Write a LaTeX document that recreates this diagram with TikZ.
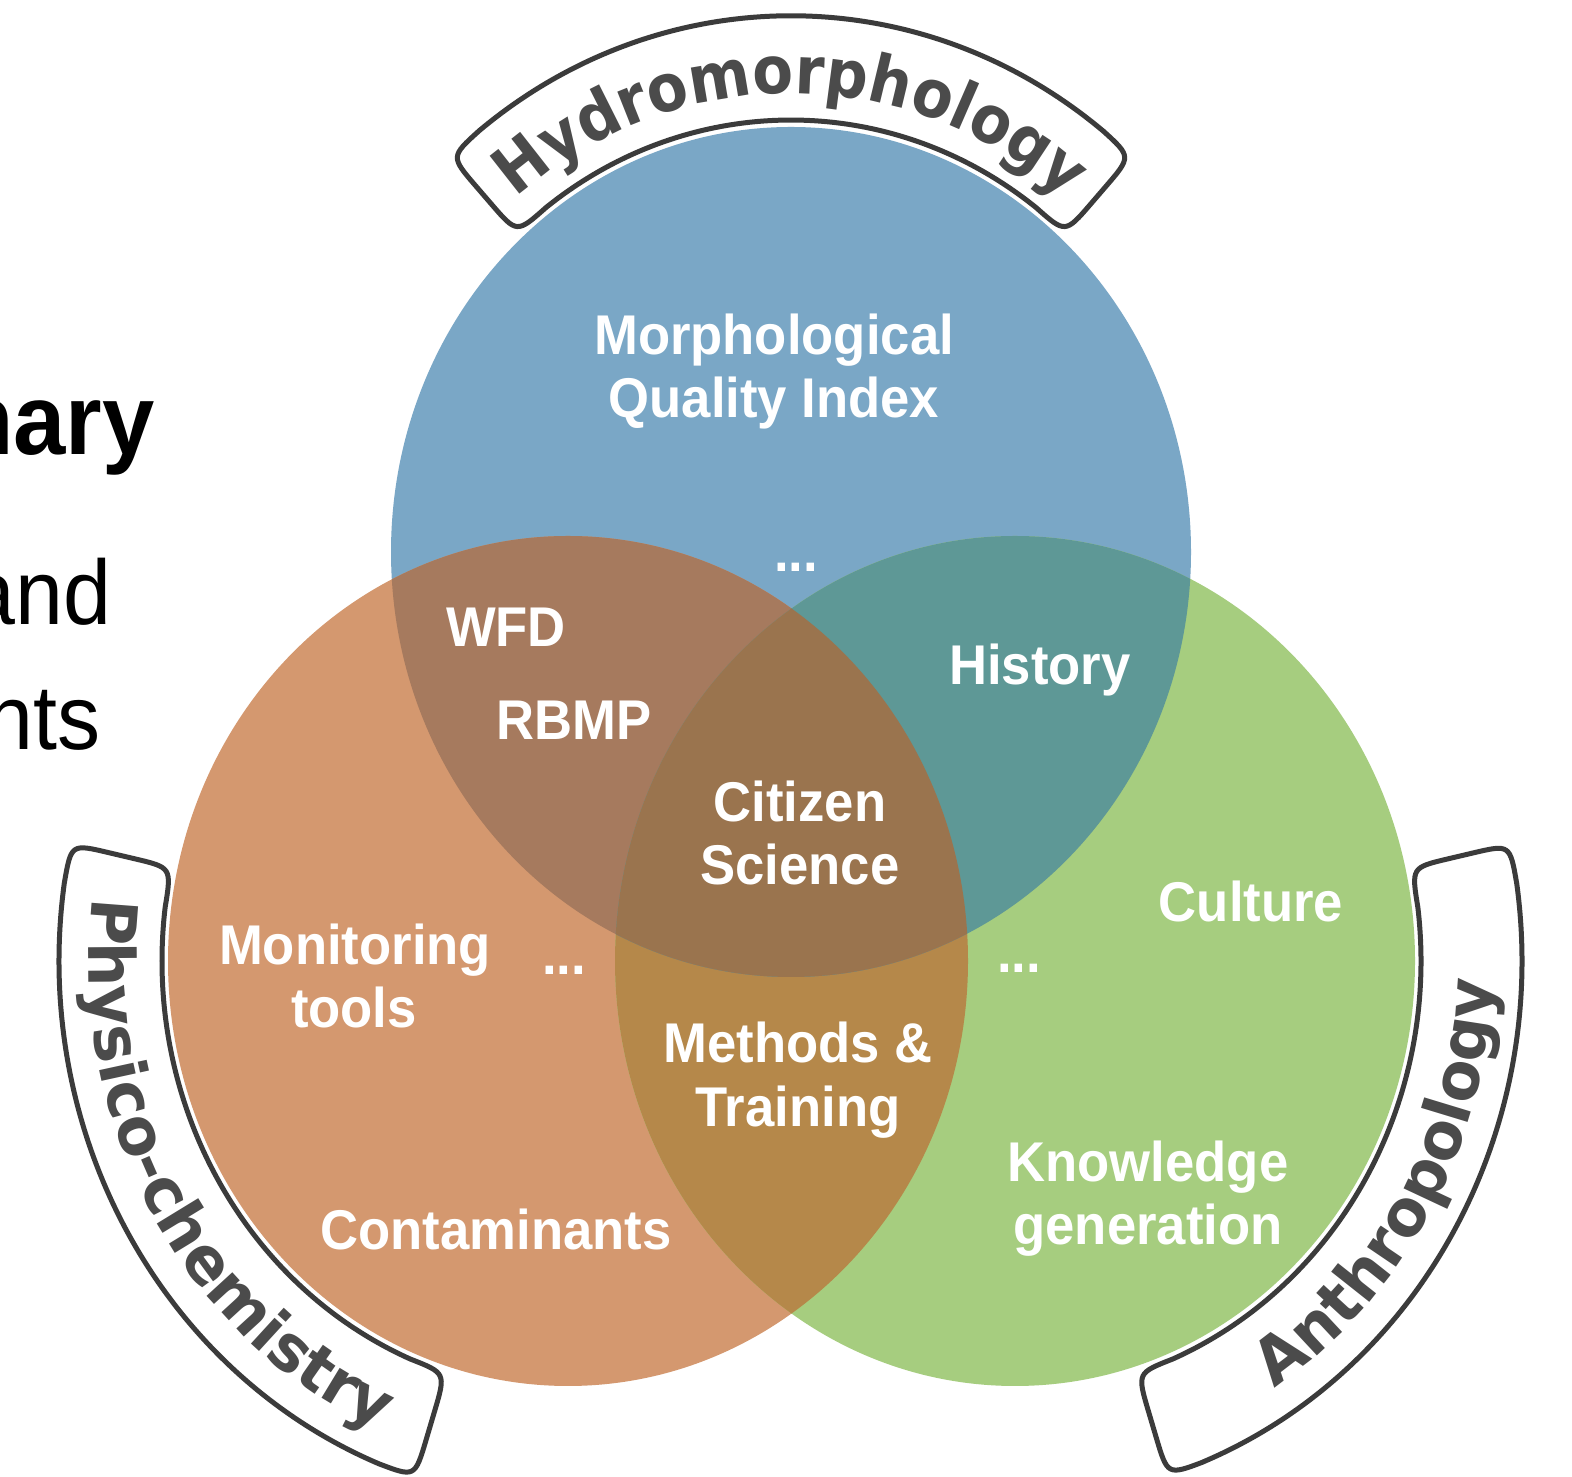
\documentclass[tikz,border=0pt]{standalone}
\usepackage{fontspec}
\usetikzlibrary{decorations.text}
\newfontfamily\lblfont[FakeStretch=0.94]{Liberation Sans}
\newfontfamily\bandfont[FakeStretch=0.9]{DejaVu Sans}
\newfontfamily\bandfontw[FakeStretch=0.98]{DejaVu Sans}
\definecolor{cblue}{HTML}{7AA7C6}
\definecolor{corange}{HTML}{D4986F}
\definecolor{cgreen}{HTML}{A6CD7F}
\definecolor{cbo}{HTML}{A67A5E}
\definecolor{cbg}{HTML}{5E9896}
\definecolor{cog}{HTML}{B5884A}
\definecolor{cbog}{HTML}{9A744E}
\definecolor{bandline}{HTML}{3B3B3B}
\definecolor{bandink}{HTML}{4B4B4B}
\newcommand{\eblue}{(791,924) ellipse [x radius=400, y radius=425]}
\newcommand{\eorange}{(568,515) ellipse [x radius=400, y radius=425]}
\newcommand{\egreen}{(1015,515) ellipse [x radius=400, y radius=425]}
% #1 start angle, #2 end angle, #3 outer radius; inner radius 406, corner size 38
\newcommand{\bandshape}[3]{({#1+2177/#3}:#3) arc[start angle={#1+2177/#3}, end angle={#2-2177/#3}, radius=#3]
  .. controls (#2:#3) .. (#2:{#3-38}) -- (#2:444) .. controls (#2:406) .. ({#2-5.36}:406)
  arc[start angle={#2-5.36}, end angle={#1+5.36}, radius=406]
  .. controls (#1:406) .. (#1:444) -- (#1:{#3-38}) .. controls (#1:#3) .. cycle}
\begin{document}
\begin{tikzpicture}[x=0.5pt,y=0.5pt,
  lbl/.style={font=\lblfont\bfseries\fontsize{28}{31.5}\selectfont, text=white, inner sep=0pt, anchor=base},
  slidebold/.style={font=\lblfont\bfseries\fontsize{50}{60}\selectfont, text=black, inner sep=0pt, anchor=base east},
  slidetext/.style={font=\lblfont\fontsize{45.8}{55}\selectfont, text=black, inner sep=0pt, anchor=base east},
  bandbox/.style={draw=bandline, line width=2.5pt, fill=white, line join=round},
  bandtexth/.style={decorate, decoration={text along path, text align=center,
     text={|\bandfont\bfseries\fontsize{33}{36}\selectfont\color{bandink}|#1}}},
  bandtextv/.style={decorate, decoration={text along path, text align=center,
     text={|\bandfontw\bfseries\fontsize{32}{36}\selectfont\color{bandink}|#1}}}]
\clip (0,0) rectangle (1572,1476);
\fill[white] (0,0) rectangle (1572,1476);
% circles
\fill[cblue] \eblue;
\fill[corange] \eorange;
\fill[cgreen] \egreen;
\begin{scope}
  \clip \eorange;
  \fill[cog] \egreen;
\end{scope}
\begin{scope}
  \clip \eblue;
  \fill[cbo] \eorange;
  \fill[cbg] \egreen;
  \clip \eorange;
  \fill[cbog] \egreen;
\end{scope}
% bands
\begin{scope}[shift={(791,924)}, yscale=1.064]
  \draw[bandbox] \bandshape{47.5}{132.5}{504};
  \path[bandtexth=Hydromorphology] (132.5:431) arc[start angle=132.5, end angle=47.5, radius=431];
\end{scope}
\begin{scope}[shift={(568,515)}, yscale=1.064]
  \draw[bandbox] \bandshape{167.5}{252.5}{509};
  \path[bandtextv=Physico-chemistry] (167.5:479) arc[start angle=167.5, end angle=252.5, radius=479];
\end{scope}
\begin{scope}[shift={(1015,515)}, yscale=1.064]
  \draw[bandbox] \bandshape{-72.5}{12.5}{507};
  \path[bandtextv=Anthropology] (-72.5:478) arc[start angle=-72.5, end angle=12.5, radius=478];
\end{scope}
% labels
\node[lbl] (morph1) at (774,1121) {Morphological};
\node[lbl] (morph2) at (774,1058) {Quality Index};
\node[lbl] (dotsb) at (796,904) {...};
\node[lbl] (wfd) at (506,829) {WFD};
\node[lbl] (rbmp) at (574,736) {RBMP};
\node[lbl] (hist) at (1040,791) {History};
\node[lbl] (cit1) at (800,654) {Citizen};
\node[lbl] (cit2) at (800,591) {Science};
\node[lbl] (mon1) at (355,511) {Monitoring};
\node[lbl] (mon2) at (354,448) {tools};
\node[lbl] (dotso) at (564,501) {...};
\node[lbl] (dotsg) at (1019,503) {...};
\node[lbl] (cult) at (1251,554) {Culture};
\node[lbl] (meth1) at (798,413) {Methods \&};
\node[lbl] (meth2) at (798,349) {Training};
\node[lbl] (know1) at (1148,294) {Knowledge};
\node[lbl] (know2) at (1148,231) {generation};
\node[lbl] (cont) at (496,226) {Contaminants};
% slide text cut at the left edge
\node[slidebold] (s1) at (155,1021) {nary};
\node[slidetext] (s2) at (112,851) {and};
\node[slidetext] (s3) at (101,726) {nts};
\end{tikzpicture}
\end{document}
